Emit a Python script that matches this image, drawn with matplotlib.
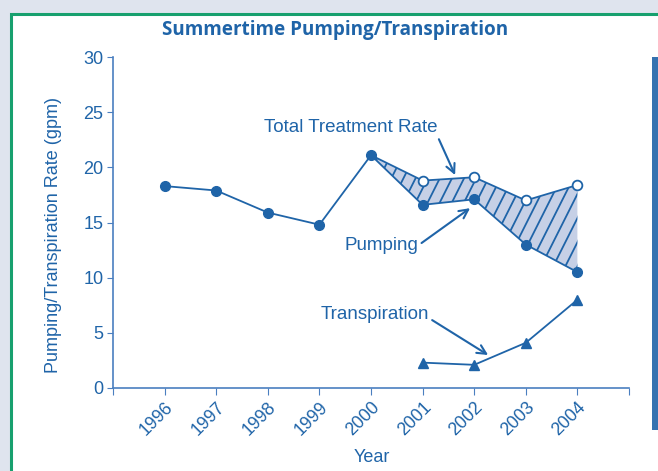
import numpy as np
import matplotlib
matplotlib.use("Agg")
import matplotlib.pyplot as plt
import matplotlib.transforms as mtransforms
from matplotlib.patches import Rectangle, Polygon
from matplotlib.collections import LineCollection

years = ["1996", "1997", "1998", "1999", "2000", "2001", "2002", "2003", "2004"]
pumping = [18.3, 17.9, 15.9, 14.8, 21.1, 16.6, 17.1, 13.0, 10.5]
total_years = ["2000", "2001", "2002", "2003", "2004"]
total_rate = [21.1, 18.8, 19.1, 17.0, 18.4]
transp_years = ["2001", "2002", "2003", "2004"]
transpiration = [2.3, 2.1, 4.1, 8.0]
yticks = [0, 5, 10, 15, 20, 25, 30]

BLUE = "#1f64a8"
LIGHT = "#c6d0e6"
GREEN = "#17a06e"
BG = "#dfe4ee"
FONT = "Liberation Sans"

fig = plt.figure(figsize=(6.58, 4.71), dpi=100)
fig.patch.set_facecolor(BG)
W, H = 658, 471
# white panel with green border
fig.patches.append(Rectangle((11 / W, -0.05), 1.0, (H - 14) / H + 0.05, transform=fig.transFigure,
                             facecolor="white", edgecolor=GREEN, linewidth=2.2, zorder=0))
# blue side bar
fig.patches.append(Rectangle((652 / W, (H - 430) / H), 8 / W, (430 - 57) / H, transform=fig.transFigure,
                             facecolor="#3572b0", edgecolor="none", zorder=1))

ax = fig.add_axes([113 / W, (H - 388) / H, (629 - 113) / W, (388 - 57) / H])
ax.set_facecolor("none")
ax.set_zorder(5)

xi = {y: i for i, y in enumerate(years)}
x_p = np.array([xi[y] for y in years], dtype=float)
x_t = np.array([xi[y] for y in total_years], dtype=float)
x_tr = np.array([xi[y] for y in transp_years], dtype=float)

# shaded band between total and pumping
p_sub = np.array([pumping[xi[y]] for y in total_years])
verts = np.concatenate([np.column_stack([x_t, total_rate]),
                        np.column_stack([x_t[::-1], p_sub[::-1]])])
band = Polygon(verts, closed=True, facecolor=LIGHT, edgecolor="none", zorder=1)
ax.add_patch(band)
# steep hatch lines clipped to band
slope = 9.3
step = 0.235
offs = np.arange(x_t[0] - 4, x_t[-1] + 1, step)
segs = [[(o, 0), (o + 30 / slope, 30)] for o in offs]
lc = LineCollection(segs, colors=BLUE, linewidths=1.3, zorder=2)
ax.add_collection(lc)
lc.set_clip_path(band)

ax.plot(x_t, total_rate, color=BLUE, lw=1.3, zorder=3)
ax.plot(x_t[1:], total_rate[1:], "o", ms=7, mfc="white", mec=BLUE, mew=1.3, zorder=5)
ax.plot(x_p, pumping, "-o", color=BLUE, lw=1.3, ms=7, zorder=4)
ax.plot(x_tr, transpiration, "-^", color=BLUE, lw=1.3, ms=7, zorder=4)

ax.set_xlim(-1, 9)
ax.set_ylim(0, 30)
ax.set_xticks(np.arange(-1, 10))
ax.set_xticklabels([""] + years + [""], rotation=45, ha="right", va="top",
                   rotation_mode="anchor", color=BLUE, fontsize=12.8, family=FONT)
shift = mtransforms.ScaledTranslation(7 / 100, 0, fig.dpi_scale_trans)
for lbl in ax.get_xticklabels():
    lbl.set_transform(lbl.get_transform() + shift)
ax.set_yticks(yticks)
ax.set_yticklabels([str(v) for v in yticks], color=BLUE, fontsize=13, family=FONT)
ax.tick_params(axis="x", direction="out", length=5, color="#4a7fc0", pad=3)
ax.tick_params(axis="y", direction="out", length=4, color="#4a7fc0", pad=3)
for s in ["top", "right"]:
    ax.spines[s].set_visible(False)
for s in ["left", "bottom"]:
    ax.spines[s].set_color("#4a7fc0")
    ax.spines[s].set_linewidth(1.2)

ax.set_ylabel("Pumping/Transpiration Rate (gpm)", color=BLUE, fontsize=13, family=FONT)
ax.yaxis.label.set_va("center")
ax.yaxis.set_label_coords((54 - 113) / 516, (388 - 235) / 331)
ax.set_xlabel("Year", color=BLUE, fontsize=13, family=FONT)
ax.xaxis.set_label_coords((372 - 113) / 516, (388 - 458) / 331)
ax.xaxis.label.set_va("center")

fig.text(335 / W, 1 - 30 / H, "Summertime Pumping/Transpiration", ha="center", va="center",
         color=BLUE, fontsize=13.6, fontweight="bold", family="Open Sans")

arrow = dict(arrowstyle="->", color=BLUE, lw=1.5, mutation_scale=16, shrinkA=0, shrinkB=0)
ax.annotate("Total Treatment Rate", xy=(5.63, 19.3), xytext=(3.61, 23.57),
            color=BLUE, fontsize=13.5, family=FONT, ha="center", va="center",
            arrowprops=dict(arrow, relpos=(1.0, 0.0)))
ax.annotate("Pumping", xy=(5.92, 16.3), xytext=(4.21, 12.96),
            color=BLUE, fontsize=13.5, family=FONT, ha="center", va="center",
            arrowprops=dict(arrow, relpos=(1.0, 0.5)))
ax.annotate("Transpiration", xy=(6.27, 2.99), xytext=(4.08, 6.62),
            color=BLUE, fontsize=13.5, family=FONT, ha="center", va="center",
            arrowprops=dict(arrow, relpos=(1.0, 0.3)))

fig.savefig("out.png", dpi=100, facecolor=fig.get_facecolor())
